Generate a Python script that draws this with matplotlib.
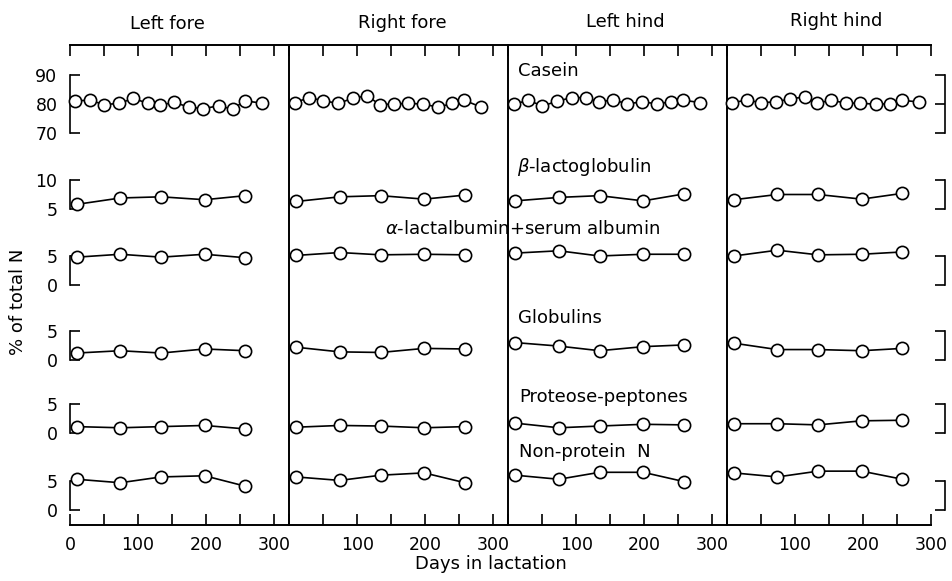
import matplotlib
matplotlib.use("Agg")
import matplotlib.pyplot as plt
from matplotlib.ticker import MultipleLocator, FuncFormatter, FixedLocator

plt.rcParams['font.family'] = ['DejaVu Sans']

# ---------------- data ----------------
quarters = ["Left fore", "Right fore", "Left hind", "Right hind"]

casein_days = [8, 29, 50, 72, 93, 114, 133, 153, 175, 196, 219, 239, 257, 282]
days = [10, 74, 134, 198, 258]

casein = [
    [81.1, 81.3, 79.8, 80.2, 81.9, 80.3, 79.6, 80.6, 78.9, 78.4, 79.4, 78.2, 81.1, 80.3],
    [80.5, 82.2, 81.1, 80.2, 82.0, 82.8, 79.8, 80.0, 80.2, 80.0, 78.9, 80.2, 81.3, 78.9],
    [79.9, 81.3, 79.3, 81.0, 82.2, 82.2, 80.7, 81.4, 80.1, 80.7, 80.1, 80.7, 81.3, 80.5],
    [80.5, 81.3, 80.5, 80.7, 81.8, 82.4, 80.3, 81.3, 80.3, 80.3, 79.9, 80.1, 81.3, 80.7],
]
beta_lactoglobulin = [
    [5.8, 6.9, 7.1, 6.6, 7.3],
    [6.3, 7.1, 7.3, 6.7, 7.4],
    [6.4, 7.0, 7.3, 6.4, 7.6],
    [6.6, 7.5, 7.5, 6.7, 7.7],
]
alpha_lact_serum = [
    [4.8, 5.3, 4.8, 5.3, 4.7],
    [5.1, 5.6, 5.2, 5.3, 5.2],
    [5.5, 5.9, 5.0, 5.3, 5.3],
    [5.0, 6.0, 5.2, 5.3, 5.7],
]
globulins = [
    [1.2, 1.6, 1.2, 1.9, 1.6],
    [2.2, 1.4, 1.3, 2.0, 1.9],
    [3.0, 2.4, 1.6, 2.3, 2.6],
    [2.9, 1.8, 1.8, 1.6, 2.0],
]
proteose_peptones = [
    [1.1, 0.9, 1.1, 1.3, 0.7],
    [1.0, 1.3, 1.2, 0.9, 1.1],
    [1.7, 0.9, 1.2, 1.5, 1.4],
    [1.6, 1.6, 1.4, 2.1, 2.2],
]
non_protein_n = [
    [5.3, 4.7, 5.7, 5.9, 4.1],
    [5.7, 5.1, 6.0, 6.4, 4.7],
    [6.0, 5.3, 6.5, 6.5, 4.9],
    [6.4, 5.7, 6.7, 6.7, 5.3],
]

series_labels = ["Casein", r"$\beta$-lactoglobulin", r"$\alpha$-lactalbumin$+$serum albumin",
                 "Globulins", "Proteose-peptones", "Non-protein  N"]
series_days = [casein_days, days, days, days, days, days]
series_vals = [casein, beta_lactoglobulin, alpha_lact_serum, globulins,
               proteose_peptones, non_protein_n]
series_ranges = [(70, 90), (5, 10), (0, 5), (0, 5), (0, 5), (0, 5)]
series_ticks = [[70, 80, 90], [5, 10], [0, 5], [0, 5], [0, 5], [0, 5]]

# ---------------- layout (pixels) ----------------
W, H = 953, 581
fig = plt.figure(figsize=(W / 100, H / 100), dpi=100)


def fbox(x0, ytop, x1, ybot):
    return [x0 / W, 1 - ybot / H, (x1 - x0) / W, (ybot - ytop) / H]


px_per_day = 0.68
panel_left = [70, 289.5, 508.5, 727]
panel_xmax = [322, 322, 322, 300]
frame_top, frame_bot = 45, 525
row_px = [(75, 133), (180, 209), (256, 285), (331, 360), (404, 433), (481, 510)]
label_pos = [(518, 76), (517, 172), (385, 234), (518, 323), (519, 402), (519, 457)]
title_pos = [(167, 29), (402, 28), (625, 27), (836, 26)]

LW = 1.2
TXT = 13

for j in range(4):
    x0 = panel_left[j]
    x1 = x0 + panel_xmax[j] * px_per_day
    fr = fig.add_axes(fbox(x0, frame_top, x1, frame_bot))
    fr.set_xlim(0, panel_xmax[j])
    fr.set_ylim(0, 1)
    fr.set_yticks([])
    fr.spines['right'].set_visible(False)
    fr.spines['left'].set_visible(j > 0)
    for s in ['top', 'bottom', 'left']:
        fr.spines[s].set_linewidth(LW + 0.2)
    fr.xaxis.set_major_locator(MultipleLocator(50))
    fr.xaxis.set_major_formatter(FuncFormatter(
        lambda v, p, j=j: (f"{int(round(v))}" if round(v) % 100 == 0 and (j == 0 or v > 1) else "")))
    fr.tick_params(axis='x', which='both', direction='in', top=True, bottom=True,
                   length=8, width=LW, labelsize=12.5, pad=8)
    fig.text(title_pos[j][0] / W, 1 - title_pos[j][1] / H, quarters[j],
             ha='center', va='baseline', fontsize=TXT)

    for i in range(6):
        ytop, ybot = row_px[i]
        ax = fig.add_axes(fbox(x0, ytop, x1, ybot))
        ax.set_xlim(0, panel_xmax[j])
        ax.set_ylim(*series_ranges[i])
        ax.patch.set_visible(False)
        for s in ax.spines.values():
            s.set_visible(False)
        ax.set_xticks([])
        ax.plot(series_days[i], series_vals[i][j], '-o', color='black', lw=LW,
                ms=8.8, mfc='white', mec='black', mew=LW, clip_on=False, zorder=3)
        if j == 0:
            ax.spines['left'].set_visible(True)
            ax.spines['left'].set_linewidth(LW)
            ax.yaxis.set_major_locator(FixedLocator(series_ticks[i]))
            ax.tick_params(axis='y', direction='in', length=7, width=LW,
                           labelsize=12.5, pad=9)
        elif j == 3:
            ax.spines['right'].set_visible(True)
            ax.spines['right'].set_linewidth(LW)
            ax.spines['right'].set_position(('outward', 10))
            ax.yaxis.set_major_locator(FixedLocator(series_ticks[i]))
            ax.yaxis.tick_right()
            ax.tick_params(axis='y', direction='in', length=7, width=LW,
                           labelright=False, labelleft=False)
        else:
            ax.set_yticks([])

for i in range(6):
    fig.text(label_pos[i][0] / W, 1 - label_pos[i][1] / H, series_labels[i],
             ha='left', va='baseline', fontsize=TXT)

fig.text(491 / W, 1 - 569 / H, "Days in lactation", ha='center', va='baseline', fontsize=TXT)
fig.text(18 / W, 1 - 302 / H, "% of total N", ha='center', va='center',
         rotation=90, fontsize=TXT)

fig.savefig("out.png", dpi=100, facecolor='white')
